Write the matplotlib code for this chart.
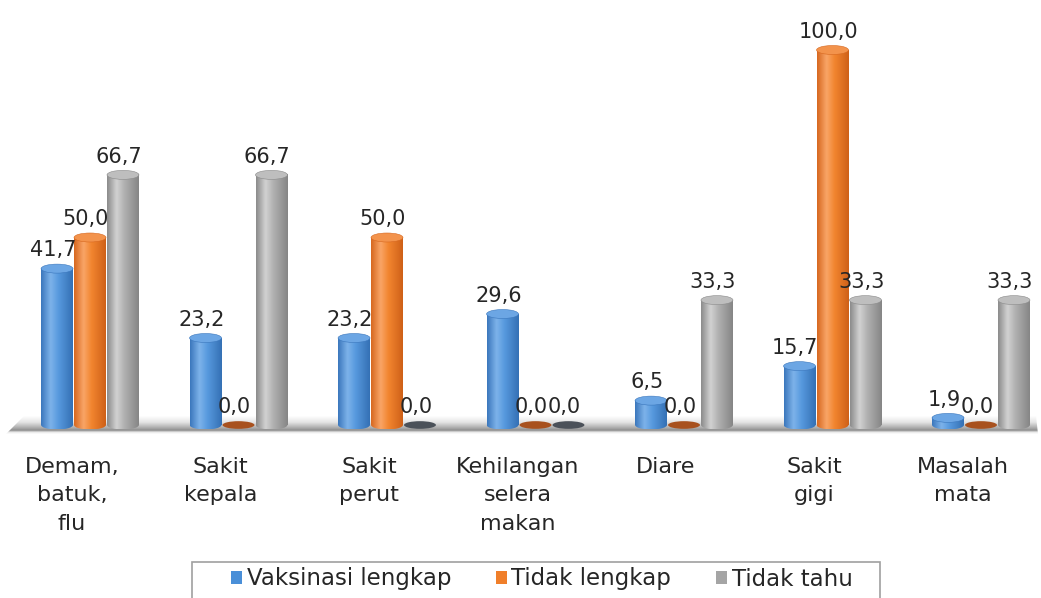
import numpy as np
import matplotlib
matplotlib.use("Agg")
import matplotlib.pyplot as plt
from matplotlib.patches import Ellipse, Rectangle, Polygon, Patch
from matplotlib.colors import LinearSegmentedColormap

# ---------------- data ----------------
categories = ["Demam,\nbatuk,\nflu", "Sakit\nkepala", "Sakit\nperut",
              "Kehilangan\nselera\nmakan", "Diare", "Sakit\ngigi", "Masalah\nmata"]
series_names = ["Vaksinasi lengkap", "Tidak lengkap", "Tidak tahu"]
vaksinasi_lengkap = [41.7, 23.2, 23.2, 29.6, 6.5, 15.7, 1.9]
tidak_lengkap = [50.0, 0.0, 50.0, 0.0, 0.0, 100.0, 0.0]
tidak_tahu = [66.7, 66.7, 0.0, 0.0, 33.3, 33.3, 33.3]

# ---------------- style ----------------
W, H = 1041, 598
XS, YS = 148.5, 3.75          # pixels per data unit
X0PX, BASEPX = 90, 425        # pixel of first group centre / baseline

def fx(px):
    return (px - X0PX) / XS

def fy(py):
    return (BASEPX - py) / YS

side_stops = [
    [(0, "#3A76BC"), (0.3, "#7DB3EA"), (0.55, "#5799DE"), (1, "#3470B4")],
    [(0, "#D6671F"), (0.3, "#F9A567"), (0.55, "#F2852F"), (1, "#CE6018")],
    [(0, "#8A8A8A"), (0.3, "#D2D2D2"), (0.55, "#B0B0B0"), (1, "#858585")],
]
top_colors = ["#6CA6E4", "#F3934C", "#BEBEBE"]
zero_colors = ["#2F5F96", "#A8511E", "#4B5159"]
legend_colors = ["#4A8FD8", "#F07F2A", "#A5A5A5"]
text_color = "#262626"

fig = plt.figure(figsize=(W / 100, H / 100), dpi=100)
ax = fig.add_axes([0, 0, 1, 1])
ax.axis("off")

# floor
grad_v = np.linspace(0, 1, 256).reshape(-1, 1)
floor_cmap = LinearSegmentedColormap.from_list(
    "floor", [(0, "#FFFFFF"), (0.35, "#E4E4E4"), (0.72, "#A0A0A0"),
              (0.8, "#858585"), (0.88, "#E6E6E6"), (1, "#FFFFFF")])
ftop, fbot = fy(416), fy(434)
fim = ax.imshow(grad_v, extent=[fx(0), fx(W), fbot, ftop], origin="upper",
                aspect="auto", cmap=floor_cmap, zorder=1, interpolation="bicubic")
floor_poly = Polygon([(fx(6), fbot), (fx(24), ftop), (fx(1036), ftop), (fx(1038), fbot)],
                     closed=True, transform=ax.transData, fc="none", ec="none")
fim.set_clip_path(floor_poly)

# cylinders
grad_h = np.linspace(0, 1, 256).reshape(1, -1)
series = [vaksinasi_lengkap, tidak_lengkap, tidak_tahu]
bw = 0.215
step = 0.222
eh = 9 / YS
for s, vals in enumerate(series):
    cmap = LinearSegmentedColormap.from_list(f"c{s}", side_stops[s])
    off = (s - 1) * step
    for i, v in enumerate(vals):
        xc = i + off
        x0, x1 = xc - bw / 2, xc + bw / 2
        if v > 0:
            ax.imshow(grad_h, extent=[x0, x1, 0, v], aspect="auto", cmap=cmap,
                      zorder=3, interpolation="bicubic")
            bot = Ellipse((xc, 0), bw, eh, transform=ax.transData)
            im2 = ax.imshow(grad_h, extent=[x0, x1, -eh / 2, 0.05], aspect="auto",
                            cmap=cmap, zorder=3, interpolation="bicubic")
            im2.set_clip_path(bot)
            ax.add_patch(Ellipse((xc, v), bw, eh, fc=top_colors[s],
                                 ec=side_stops[s][0][1], lw=0.4, zorder=4))
        else:
            ax.add_patch(Ellipse((xc, 0), bw, eh * 0.85, fc=zero_colors[s],
                                 ec="none", zorder=4))
        ax.annotate(f"{v:.1f}".replace(".", ","), (xc, v), xytext=(-3, 6),
                    textcoords="offset points", ha="center", va="bottom",
                    fontsize=15, color=text_color, zorder=6)

# category labels (rendered slightly left of the group centre, as in the source)
for i, cat in enumerate(categories):
    ax.annotate(cat, (i, fy(457)), xytext=(-13, 0), textcoords="offset points",
                ha="center", va="top", fontsize=16, color=text_color,
                linespacing=1.52)

ax.set_xlim(fx(0), fx(W))
ax.set_ylim(fy(H), fy(0))

# legend
fig.add_artist(Rectangle((192 / W, -0.05), (880 - 192) / W, (598 - 562) / H + 0.05,
                         transform=fig.transFigure, fc="white", ec="#A0A0A0",
                         lw=1.2, zorder=1))
handles = [Patch(facecolor=c, edgecolor="none") for c in legend_colors]
fig.legend(handles, series_names, loc="center left",
           bbox_to_anchor=(231 / W, 1 - 579 / H), ncol=3, frameon=False,
           fontsize=16.5, handlelength=0.48, handleheight=0.48,
           handletextpad=0.2, columnspacing=1.95, borderpad=0,
           borderaxespad=0, labelcolor=text_color)

fig.savefig("out.png", dpi=100)
